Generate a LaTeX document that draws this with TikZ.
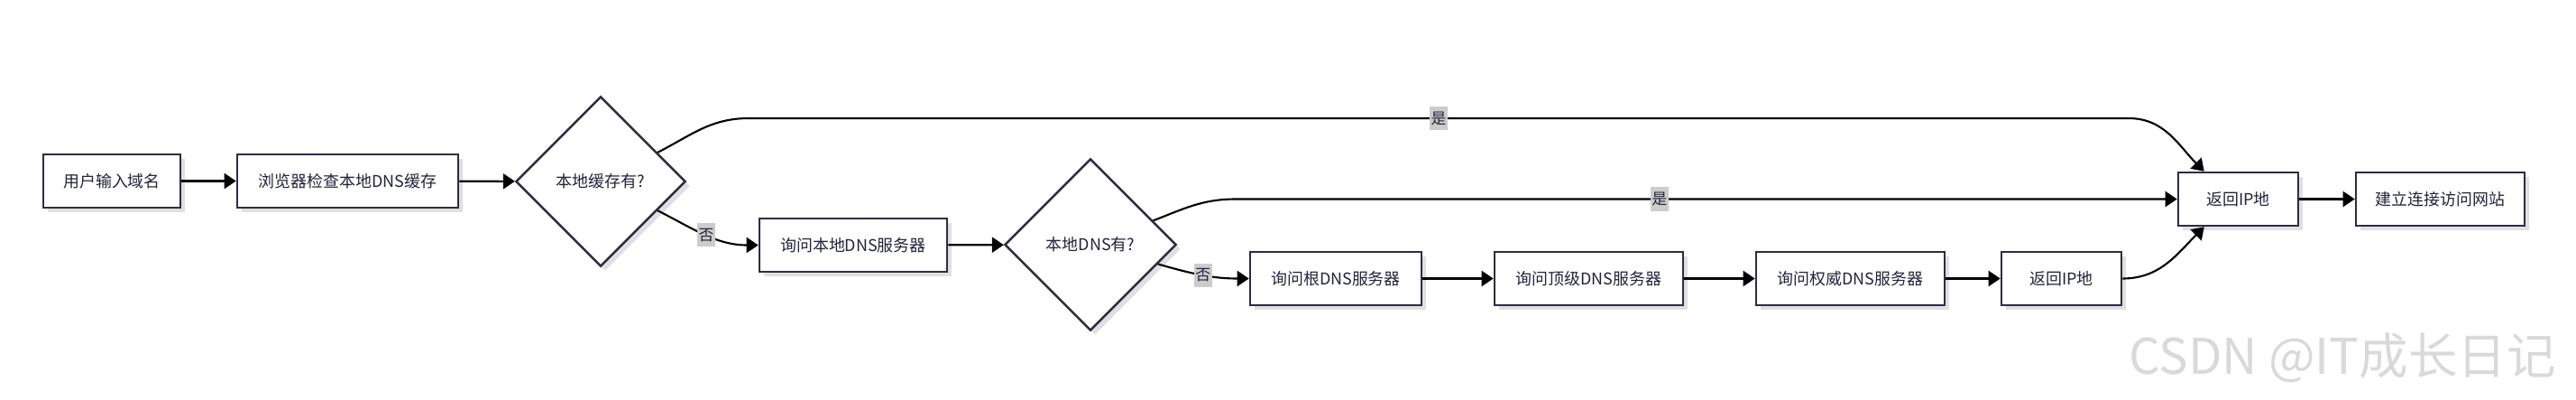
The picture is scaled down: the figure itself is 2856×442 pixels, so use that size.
\documentclass[tikz,border=0pt]{standalone}
\usepackage{fontspec}
\setmainfont{Noto Sans CJK SC}
\usetikzlibrary{arrows.meta,shapes.geometric,shadows}
\definecolor{boxline}{HTML}{2C2C44}
\definecolor{boxtext}{HTML}{23233A}
\definecolor{answerbg}{HTML}{CCCCCC}
\definecolor{wmgray}{HTML}{D9D9D9}
\begin{document}
\begin{tikzpicture}[x=0.01cm,y=-0.01cm,
        every node/.style={font=\fontsize{5.1pt}{6pt}\selectfont,text=boxtext},
        stepbox/.style={draw=boxline,line width=0.7pt,fill=white,minimum height=0.59cm,inner sep=0pt,
            drop shadow={shadow xshift=0.05cm,shadow yshift=-0.05cm,fill=black!12,opacity=1}},
        choice/.style={diamond,aspect=1,draw=boxline,line width=0.7pt,fill=white,inner sep=0pt,
            drop shadow={shadow xshift=0.05cm,shadow yshift=-0.05cm,fill=black!12,opacity=1}},
        conn/.style={line width=0.6pt,-{Triangle[length=0.13cm,width=0.17cm]}},
        answer/.style={fill=answerbg,inner xsep=0.4pt,inner ysep=1.6pt,font=\fontsize{4.8pt}{5pt}\selectfont}]
        \useasboundingbox (0,0) rectangle (2856,442);
        \node[stepbox,minimum width=1.52cm] (user) at (124,200.5) {用户输入域名};
        \node[stepbox,minimum width=2.45cm] (browser) at (385.5,200.5) {浏览器检查本地DNS缓存};
        \node[choice,minimum width=1.88cm,minimum height=1.88cm] (cache) at (666,201) {本地缓存有?};
        \node[stepbox,minimum width=2.08cm] (ldns) at (946,271.5) {询问本地DNS服务器};
        \node[choice,minimum width=1.90cm,minimum height=1.90cm] (hasdns) at (1209,271) {本地DNS有?};
        \node[stepbox,minimum width=1.90cm] (root) at (1481,308.5) {询问根DNS服务器};
        \node[stepbox,minimum width=2.09cm] (tld) at (1761.5,308.5) {询问顶级DNS服务器};
        \node[stepbox,minimum width=2.09cm] (auth) at (2051.5,308.5) {询问权威DNS服务器};
        \node[stepbox,minimum width=1.33cm] (ipauth) at (2285.5,308.5) {返回IP地};
        \node[stepbox,minimum width=1.33cm] (ip) at (2481.5,220.5) {返回IP地};
        \node[stepbox,minimum width=1.87cm] (visit) at (2705.5,220.5) {建立连接访问网站};
        \draw[conn] (user) -- (browser);
        \draw[conn] (browser) -- (cache);
        \draw[conn] (cache.27) to[out=27,in=180] (830,131) -- node[answer]{是} (2360,131)
            to[out=0,in=135] ([xshift=0.3cm]ip.north west);
        \draw[conn] (cache.-27) to[out=-27,in=180] node[answer]{否} (ldns.west);
        \draw[conn] (ldns) -- (hasdns);
        \draw[conn] (hasdns.21) to[out=21,in=180] (1370,220.5) -- node[answer,pos=0.45]{是} (ip.west);
        \draw[conn] (hasdns.-16) to[out=-16,in=180] node[answer]{否} (root.west);
        \draw[conn] (root) -- (tld);
        \draw[conn] (tld) -- (auth);
        \draw[conn] (auth) -- (ipauth);
        \draw[conn] (ipauth.east) to[out=0,in=-135] ([xshift=0.3cm]ip.south west);
        \draw[conn] (ip) -- (visit);
        \node[anchor=base east,text=wmgray,font=\fontsize{15.5pt}{16pt}\selectfont] (mark) at (2846,414) {CSDN @IT成长日记};
    \end{tikzpicture}
\end{document}
